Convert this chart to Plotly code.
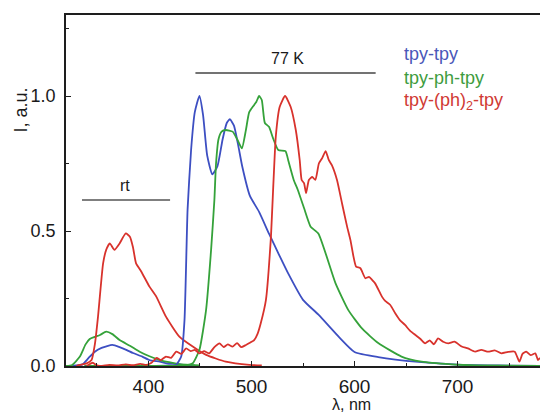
import plotly.graph_objects as go

# ---- emission spectra (wavelength in nm, normalized intensity) ----
# room-temperature spectra
rt_tpy_x = [326, 336, 342, 348, 354.5, 360, 365, 372, 379, 385, 394, 401, 411, 418, 427, 435, 445]
rt_tpy_y = [0.0, 0.006, 0.03, 0.053, 0.067, 0.074, 0.078, 0.07, 0.059, 0.048, 0.035, 0.022, 0.016, 0.01, 0.008, 0.004, 0.002]

rt_ph_x = [320, 326, 333.5, 339, 343, 348, 353, 359, 365, 372, 382, 391.5, 401, 411, 420, 430, 440, 450]
rt_ph_y = [0.0, 0.004, 0.035, 0.08, 0.1, 0.108, 0.115, 0.127, 0.118, 0.096, 0.075, 0.053, 0.036, 0.022, 0.014, 0.007, 0.004, 0.002]

rt_ph2_x = [330, 333.5, 340, 344.8, 348, 351, 356, 359, 362.5, 367, 372, 378, 382, 385, 388, 393, 401, 407.6, 417, 430, 443, 456, 475, 498, 510]
rt_ph2_y = [0.0, 0.004, 0.01, 0.022, 0.08, 0.18, 0.38, 0.43, 0.454, 0.43, 0.454, 0.491, 0.479, 0.44, 0.38, 0.35, 0.294, 0.257, 0.183, 0.109, 0.072, 0.041, 0.016, 0.004, 0.002]

# 77 K spectra
lt_tpy_x = [338, 360, 400, 420, 427, 431.8, 435, 438, 441.4, 445, 449.5, 453, 457, 462, 467, 472, 476, 479, 483, 487, 491, 498.5, 507.5, 517, 527, 536, 550, 565, 585, 600, 623, 662, 700, 740, 780]
lt_tpy_y = [0.0, 0.0, 0.0, 0.002, 0.005, 0.035, 0.17, 0.58, 0.8, 0.94, 1.0, 0.93, 0.78, 0.71, 0.74, 0.84, 0.9, 0.914, 0.89, 0.82, 0.74, 0.63, 0.57, 0.49, 0.41, 0.34, 0.245, 0.19, 0.107, 0.052, 0.033, 0.015, 0.005, 0.002, 0.0]

lt_ph_x = [338, 400, 436, 443, 449.5, 456, 460.8, 464, 465.6, 468, 471, 475, 481.7, 486.5, 490.7, 494.6, 497.8, 502.6, 504.8, 507.4, 510, 513, 517, 521, 526, 533, 536, 541, 545, 551, 557.4, 565, 581.5, 594, 607, 623, 645.6, 665, 694, 720, 780]
lt_ph_y = [0.0, 0.0, 0.002, 0.01, 0.06, 0.21, 0.43, 0.615, 0.75, 0.84, 0.868, 0.874, 0.868, 0.837, 0.806, 0.874, 0.94, 0.967, 0.979, 1.0, 0.985, 0.9, 0.886, 0.843, 0.8, 0.796, 0.757, 0.689, 0.652, 0.585, 0.516, 0.49, 0.307, 0.207, 0.14, 0.085, 0.035, 0.016, 0.006, 0.002, 0.0]

lt_ph2_x = [340, 346, 349, 353, 362, 370, 378, 385, 392, 398, 403, 408, 412, 417, 422, 427, 432, 436.6, 441, 445, 449.5, 454, 459, 464, 469, 473, 477, 481.6, 486, 490, 494.6, 498, 502.6, 506, 509, 514, 518.7, 523.6, 527.4, 532.6, 538, 543, 546.8, 548.7, 551, 553, 555.7, 559, 562, 565.4, 568.6, 572, 575, 578, 583, 588, 592.8, 596, 599, 601.5, 605.7, 610.5, 614, 617, 620, 626.6, 630, 634.7, 639.5, 644, 649, 654, 659, 664, 668.5, 673, 677, 681, 686, 691, 697, 704, 710, 717, 723, 729.7, 736, 742.5, 749, 755.5, 760, 763, 766.6, 771, 775.5, 778, 780]
lt_ph2_y = [0.0, 0.012, 0.004, 0.0, 0.004, 0.002, 0.006, 0.003, 0.008, 0.004, 0.012, 0.03, 0.022, 0.035, 0.03, 0.053, 0.045, 0.065, 0.055, 0.06, 0.047, 0.055, 0.047, 0.07, 0.084, 0.07, 0.08, 0.072, 0.085, 0.07, 0.078, 0.085, 0.096, 0.12, 0.158, 0.244, 0.467, 0.85, 0.96, 1.0, 0.96, 0.874, 0.763, 0.689, 0.677, 0.64, 0.689, 0.70, 0.689, 0.75, 0.77, 0.796, 0.763, 0.744, 0.689, 0.60, 0.516, 0.467, 0.405, 0.368, 0.362, 0.325, 0.33, 0.319, 0.306, 0.257, 0.24, 0.226, 0.195, 0.17, 0.152, 0.13, 0.115, 0.1, 0.084, 0.095, 0.08, 0.102, 0.09, 0.084, 0.09, 0.072, 0.065, 0.053, 0.06, 0.053, 0.058, 0.047, 0.052, 0.053, 0.016, 0.045, 0.053, 0.04, 0.047, 0.022, 0.03]

# ---- labels ----
series_names = ["tpy-tpy", "tpy-ph-tpy", "tpy-(ph)<sub>2</sub>-tpy"]
series_colors = ["#3d4fc2", "#35a23a", "#d8322c"]
label_colors = ["#4a57b8", "#3e9c3e", "#d03a34"]
x_ticks = [400, 500, 600, 700]
y_ticks = [0.0, 0.5, 1.0]
y_tick_text = ["0.0", "0.5", "1.0"]

FONT = "Liberation Sans, Arial, sans-serif"
AXIS_COLOR = "#1e1e1e"
TEXT_COLOR = "#1a1a1a"

fig = go.Figure()

curves = [
    (rt_tpy_x, rt_tpy_y, 0), (rt_ph_x, rt_ph_y, 1), (rt_ph2_x, rt_ph2_y, 2),
    (lt_tpy_x, lt_tpy_y, 0), (lt_ph_x, lt_ph_y, 1), (lt_ph2_x, lt_ph2_y, 2),
]
for xs, ys, k in curves:
    fig.add_trace(go.Scatter(
        x=xs, y=ys, mode="lines", showlegend=False, name=series_names[k],
        line=dict(color=series_colors[k], width=1.8, shape="spline", smoothing=0.5),
        hoverinfo="skip",
    ))

# temperature labels with bracket lines
fig.add_shape(type="line", xref="x", yref="y", x0=335.5, x1=421, y0=0.615, y1=0.615,
              line=dict(color="#555555", width=1.4))
fig.add_shape(type="line", xref="x", yref="y", x0=445.6, x1=620.5, y0=1.085, y1=1.085,
              line=dict(color="#444444", width=1.4))
fig.add_annotation(x=377, y=0.67, xref="x", yref="y", text="rt", showarrow=False,
                   font=dict(family=FONT, size=16, color=TEXT_COLOR))
fig.add_annotation(x=535, y=1.14, xref="x", yref="y", text="77 K", showarrow=False,
                   font=dict(family=FONT, size=16, color=TEXT_COLOR))

# series labels
label_y = [1.155, 1.065, 0.98]
for name, c, yy in zip(series_names, label_colors, label_y):
    fig.add_annotation(x=646, y=yy, xref="x", yref="y", text=name, showarrow=False,
                       xanchor="left", yanchor="middle",
                       font=dict(family=FONT, size=18, color=c))

# axis titles
fig.add_annotation(x=-0.094, y=0.948, xref="paper", yref="y",
                   text="I, a.u.", showarrow=False, textangle=-90,
                   xanchor="center", yanchor="middle",
                   font=dict(family=FONT, size=18, color=TEXT_COLOR))
fig.add_annotation(x=597, y=-0.111, xref="x", yref="paper", text="λ, nm", showarrow=False,
                   yanchor="middle", font=dict(family=FONT, size=16, color=TEXT_COLOR))

fig.update_xaxes(
    range=[320, 780], showgrid=False, zeroline=False,
    showline=True, linecolor=AXIS_COLOR, linewidth=1.5, mirror=True,
    ticks="inside", ticklen=5, tickwidth=1.2, tickcolor=AXIS_COLOR,
    tickvals=x_ticks, ticktext=[str(v) for v in x_ticks],
    minor=dict(ticks="inside", ticklen=3, tickwidth=1.2, tickcolor=AXIS_COLOR, dtick=50, tick0=350),
    tickfont=dict(family=FONT, size=19, color=TEXT_COLOR),
    ticklabelstandoff=2,
)
fig.update_yaxes(
    range=[0, 1.3], showgrid=False, zeroline=False,
    showline=True, linecolor=AXIS_COLOR, linewidth=1.5, mirror=False,
    ticks="inside", ticklen=5, tickwidth=1.2, tickcolor=AXIS_COLOR,
    tickvals=y_ticks, ticktext=y_tick_text,
    minor=dict(ticks="inside", ticklen=3, tickwidth=1.2, tickcolor=AXIS_COLOR, dtick=0.5, tick0=0.25),
    tickfont=dict(family=FONT, size=18, color=TEXT_COLOR),
    ticklabelstandoff=5,
)

fig.update_layout(
    width=540, height=413,
    margin=dict(l=66, r=0, t=15, b=47),
    plot_bgcolor="white", paper_bgcolor="white",
    font=dict(family=FONT),
)

fig.write_html("out.html")
